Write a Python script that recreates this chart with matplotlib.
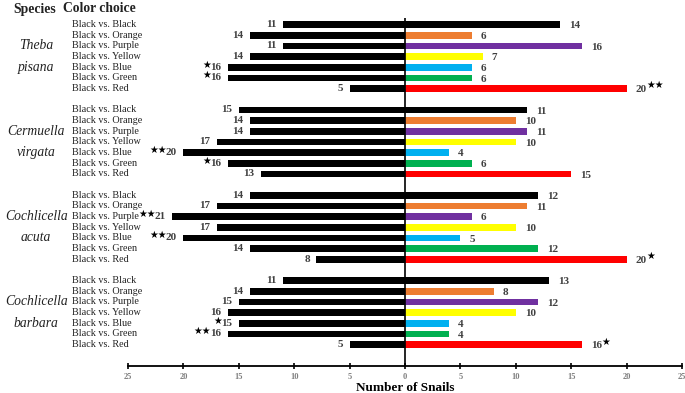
import numpy as np
import matplotlib
matplotlib.use("Agg")
import matplotlib.pyplot as plt

plt.rcParams['font.family'] = ['Liberation Serif', 'DejaVu Sans']

# data
species = [("Theba", "pisana"), ("Cermuella", "virgata"),
           ("Cochlicella", "acuta"), ("Cochlicella", "barbara")]
choices = ["Black vs. Black", "Black vs. Orange", "Black vs. Purple", "Black vs. Yellow",
           "Black vs. Blue", "Black vs. Green", "Black vs. Red"]
bar_colors = ["#000000", "#ED7D31", "#7030A0", "#FFFF00", "#00B0F0", "#00B050", "#FF0000"]

black_counts = [[11, 14, 11, 14, 16, 16, 5],
                [15, 14, 14, 17, 20, 16, 13],
                [14, 17, 21, 17, 20, 14, 8],
                [11, 14, 15, 16, 15, 16, 5]]
color_counts = [[14, 6, 16, 7, 6, 6, 20],
                [11, 10, 11, 10, 4, 6, 15],
                [12, 11, 6, 10, 5, 12, 20],
                [13, 8, 12, 10, 4, 4, 16]]
# significance stars (group, row) -> text
black_stars = {(0, 4): "★", (0, 5): "★", (1, 4): "★★", (1, 5): "★",
               (2, 2): "★★", (2, 4): "★★", (3, 4): "★", (3, 5): "★★"}
color_stars = {(0, 6): "★★", (2, 6): "★", (3, 6): "★"}

fig = plt.figure(figsize=(6.85, 3.93), dpi=100)
ax = fig.add_axes([0.187, 0.0687, 0.8086, 0.885])

h = 0.64
lab_col = "#404040"
for g in range(4):
    for r in range(7):
        y = g * 8 + r
        b = black_counts[g][r]
        c = color_counts[g][r]
        ax.barh(y, -b, height=h, color="black")
        ax.barh(y, c, height=h, color=bar_colors[r])
        ax.text(-b - 0.6, y, str(b), ha="right", va="center", fontsize=8,
                fontweight="bold", color=lab_col)
        ax.text(c + 0.8, y + 0.1, str(c), ha="left", va="center", fontsize=8,
                fontweight="bold", color=lab_col)
        if (g, r) in black_stars:
            s = black_stars[(g, r)]
            ax.text(-b - 1.5, y - 0.25, s, ha="right", va="center", fontsize=7,
                    family="DejaVu Sans", color="black")
        if (g, r) in color_stars:
            s = color_stars[(g, r)]
            ax.text(c + 1.75, y - 0.3, s, ha="left", va="center", fontsize=7,
                    family="DejaVu Sans", color="black")
        # row labels
        ax.text(-30.05, y, choices[r], ha="left", va="center", fontsize=7.3,
                color="#222222", clip_on=False)
    n1, n2 = species[g]
    ax.text(-33.3, g * 8 + 2.0, n1, ha="center", va="center", fontsize=9.8,
            style="italic", color="#222222", clip_on=False)
    ax.text(-33.3, g * 8 + 4.0, n2, ha="center", va="center", fontsize=9.8,
            style="italic", color="#222222", clip_on=False)

ax.set_xlim(-25, 25)
ax.set_ylim(32.0, -0.6)
ax.axvline(0, color="black", lw=1.2)

for s in ["top", "right", "left"]:
    ax.spines[s].set_visible(False)
ax.spines["bottom"].set_linewidth(1.3)
ax.set_yticks([])
ticks = np.arange(-25, 26, 5)
ax.set_xticks(ticks)
ax.set_xticklabels([str(abs(t)) for t in ticks], fontsize=6, fontweight="bold",
                   color="#7f7f7f")
ax.tick_params(axis="x", direction="inout", length=4, width=1.2, pad=3)
ax.set_xlabel("Number of Snails", fontsize=9.5, fontweight="bold", labelpad=1)

fig.text(13 / 685, 1 - 9 / 393, "Species", fontsize=9.8, fontweight="bold",
         ha="left", va="center", color="#222222")
fig.text(63 / 685, 1 - 9 / 393, "Color choice", fontsize=9.8, fontweight="bold",
         ha="left", va="center", color="#222222")

fig.savefig("out.png", dpi=100)
